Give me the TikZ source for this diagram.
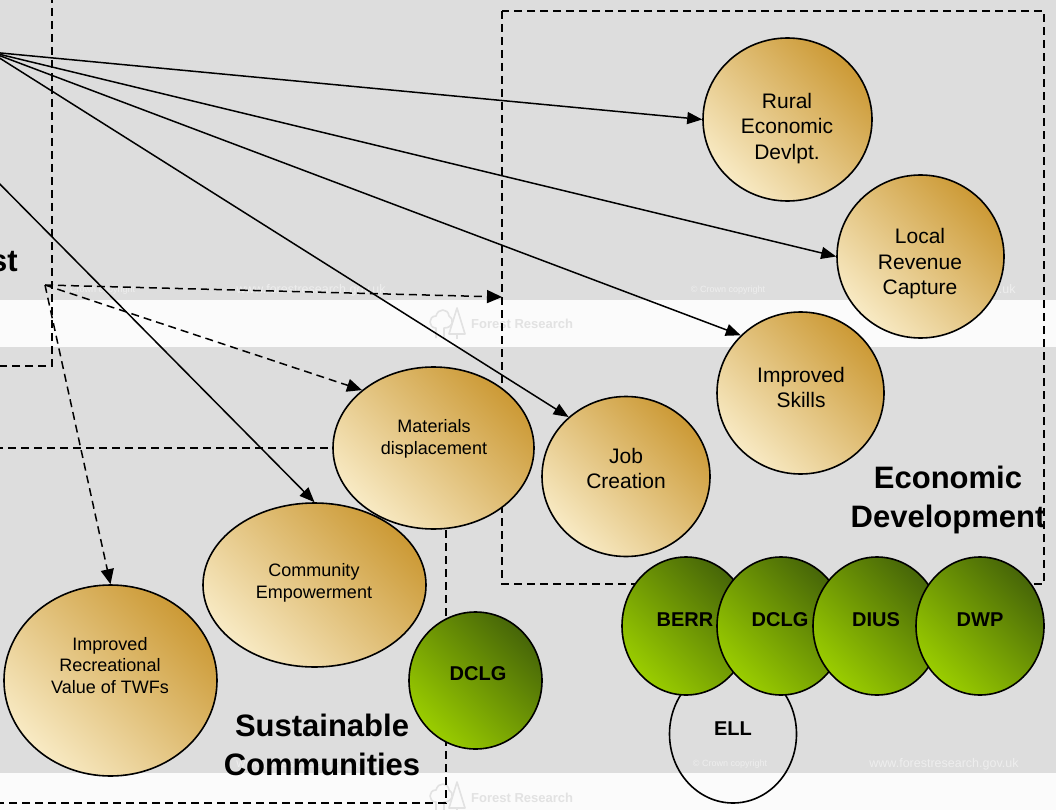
\documentclass[tikz,border=0pt]{standalone}
\usepackage{fontspec}
\setmainfont{Liberation Sans}
\usetikzlibrary{shapes.geometric,arrows.meta}
\definecolor{bggray}{HTML}{DDDDDD}
\definecolor{bandwhite}{HTML}{FBFBFB}
\definecolor{golddark}{HTML}{CC9A36}
\definecolor{goldlight}{HTML}{F8EAC4}
\definecolor{greendark}{HTML}{476608}
\definecolor{greenlight}{HTML}{9ACD00}
\definecolor{wmtext}{HTML}{EEEEEE}
\definecolor{wmlogo}{HTML}{E2E2E2}
\begin{document}
\begin{tikzpicture}[x=1pt,y=-1pt,
  gold/.style={ellipse,draw=black,line width=1.6pt,inner sep=0pt,
     top color=golddark,bottom color=goldlight,shading angle=-45},
  grn/.style={ellipse,draw=black,line width=1.6pt,inner sep=0pt,
     top color=greendark,bottom color=greenlight,shading angle=-45},
  hollow/.style={ellipse,draw=black,line width=1.6pt,inner sep=0pt},
  lbl/.style={align=center,inner sep=0pt,font=\fontsize{21}{25.5}\selectfont},
  lblsm/.style={align=center,inner sep=0pt,font=\fontsize{18}{21.7}\selectfont},
  lblg/.style={inner sep=0pt,font=\fontsize{20}{24}\selectfont\bfseries},
  title/.style={align=center,inner sep=0pt,font=\fontsize{31}{38.5}\selectfont\bfseries},
  boxline/.style={line width=1.5pt,dash pattern=on 8pt off 5pt},
  link/.style={line width=1.5pt,-{Triangle[length=15pt,width=12pt]}},
  dlink/.style={line width=1.5pt,dash pattern=on 8pt off 5pt,-{Triangle[length=15pt,width=13pt]}},
  wmsmall/.style={text=wmtext,inner sep=0pt,font=\fontsize{9}{10}\selectfont},
  wmurl/.style={text=wmtext,inner sep=0pt,font=\fontsize{12.5}{14}\selectfont},
  wmname/.style={text=wmlogo,inner sep=0pt,anchor=west,font=\fontsize{13}{14}\selectfont\bfseries},
  logoline/.style={draw=wmlogo,line width=1.6pt,line join=round}
]
\useasboundingbox (0,0) rectangle (1056,810);
\clip (0,0) rectangle (1056,810);
% background and bands
\fill[bggray] (0,0) rectangle (1056,810);
\fill[bandwhite] (0,300) rectangle (1056,347);
\fill[bandwhite] (0,773) rectangle (1056,810);
% watermarks
\node[wmsmall] (wmc1) at (98,290) {© Crown copyright};
\node[wmurl] (wmu1) at (311,290) {www.forestresearch.gov.uk};
\node[wmsmall] (wmc2) at (728,290) {© Crown copyright};
\node[wmurl] (wmu2) at (941,290) {www.forestresearch.gov.uk};
\node[wmsmall] (wmc3) at (98,764) {© Crown copyright};
\node[wmurl] (wmu3) at (311,764) {www.forestresearch.gov.uk};
\node[wmsmall] (wmc4) at (730,764) {© Crown copyright};
\node[wmurl] (wmu4) at (944,764) {www.forestresearch.gov.uk};
\foreach \yy/\nm in {324/a,798/b}{
  \draw[logoline] (436,\yy+14) -- (436,\yy+4) .. controls (428,\yy+4) and (428,\yy-8) .. (436,\yy-8)
     .. controls (438,\yy-16) and (448,\yy-16) .. (449,\yy-8) .. controls (454,\yy-6) and (454,\yy+4) .. (444,\yy+4) -- (444,\yy+14);
  \draw[logoline] (457,\yy-16) -- (449,\yy+10) -- (465,\yy+10) -- cycle;
  \draw[logoline] (457,\yy+10) -- (457,\yy+15);
  \node[wmname] (logo\nm) at (471,\yy) {Forest Research};
}
% dashed group boxes
\draw[boxline] (52,-5) -- (52,366) -- (-5,366);
\draw[boxline] (502,11) rectangle (1044,584);
\draw[boxline] (-5,448) -- (446,448) -- (446,803) -- (-5,803);
% anchor points
\coordinate (src) at (-10,52);
\coordinate (src2) at (-20,164);
\coordinate (dsrc) at (45,285);
\coordinate (edin) at (502,297);
% outcome ellipses
\node[gold,minimum width=169pt,minimum height=163pt] (rural) at (787.5,119.5) {};
\node[gold,minimum width=167pt,minimum height=163pt] (local) at (920.5,256.5) {};
\node[gold,minimum width=167pt,minimum height=162pt] (skills) at (800.5,393) {};
\node[gold,minimum width=168pt,minimum height=160pt] (job) at (626,476.5) {};
\node[gold,minimum width=201pt,minimum height=162pt] (mat) at (433.5,448) {};
\node[gold,minimum width=223pt,minimum height=164pt] (comm) at (314.5,585) {};
\node[gold,minimum width=213pt,minimum height=191pt] (recr) at (110.5,680.5) {};
% department circles
\node[grn,minimum width=133pt,minimum height=137pt] (dclga) at (475.5,680.5) {};
\node[hollow,minimum width=127pt,minimum height=138pt] (ell) at (733,734) {};
\node[grn,minimum width=128pt,minimum height=138pt] (berr) at (686,626) {};
\node[grn,minimum width=128pt,minimum height=138pt] (dclgb) at (781,626) {};
\node[grn,minimum width=128pt,minimum height=138pt] (dius) at (877,626) {};
\node[grn,minimum width=128pt,minimum height=138pt] (dwp) at (980,626) {};
% labels
\node[lbl] (ruralT) at (787,128.5) {Rural\\Economic\\Devlpt.};
\node[lbl] (localT) at (920,264) {Local\\Revenue\\Capture};
\node[lbl] (skillsT) at (801,387.5) {Improved\\Skills};
\node[lbl] (jobT) at (626,468.5) {Job\\Creation};
\node[lblsm] (matT) at (434,439) {Materials\\displacement};
\node[lblsm] (commT) at (314,582.5) {Community\\Empowerment};
\node[lblsm] (recrT) at (110,665.5) {Improved\\Recreational\\Value of TWFs};
\node[lblg] (dclgaT) at (478,673.5) {DCLG};
\node[lblg] (ellT) at (733,728.5) {ELL};
\node[lblg] (berrT) at (685,620) {BERR};
\node[lblg] (dclgbT) at (780,620) {DCLG};
\node[lblg] (diusT) at (876,620) {DIUS};
\node[lblg] (dwpT) at (980,620) {DWP};
% titles
\node[title] (econT) at (948,500) {Economic\\Development};
\node[title] (sustT) at (322,745) {Sustainable\\Communities};
\node[title,anchor=base east] (forT) at (18,271) {st};
% connectors
\draw[link] (src) -- (rural.west);
\draw[link] (src) -- (local.west);
\draw[link] (src) -- (skills.136);
\draw[link] (src) -- (job.134);
\draw[link] (src2) -- (comm.north);
\draw[dlink] (dsrc) -- (edin);
\draw[dlink] (dsrc) -- (mat.141);
\draw[dlink] (dsrc) -- (recr.north);
\end{tikzpicture}
\end{document}
